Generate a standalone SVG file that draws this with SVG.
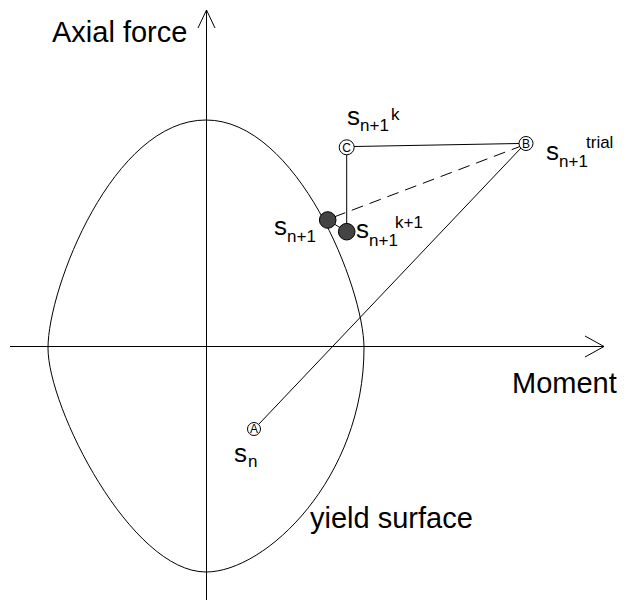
<svg xmlns="http://www.w3.org/2000/svg" width="626" height="603" viewBox="0 0 626 603">
<style>
.ln{fill:none;stroke:#000;stroke-width:1}
.lbl{font-family:"Liberation Sans",Arial,sans-serif;fill:#000}
.big{font-size:29px}
.s{font-size:26px}
.sub{font-size:17px}
.cl{font-family:"Liberation Sans",Arial,sans-serif;font-size:12px;fill:#000;text-anchor:middle}
.open{fill:#fff;stroke:#000;stroke-width:1}
.filled{fill:#444;stroke:#000;stroke-width:1}
</style>
<rect width="626" height="603" fill="#fff"/>
<g id="axes">
<line class="ln" x1="206.5" y1="600" x2="206.5" y2="10"/>
<polyline class="ln" points="198,28 206.5,10 215,28"/>
<line class="ln" x1="10" y1="346.5" x2="604" y2="346.5"/>
<polyline class="ln" points="585,336 604,346.5 585,357"/>
<text class="lbl big" x="52" y="42">Axial force</text>
<text class="lbl big" x="512" y="393">Moment</text>
</g>
<g id="yield-surface">
<path class="ln" d="M206,120 C297,120 364,288 364,348 C364,478 266,572 206,572 C131,572 48,408 48,348 C48,288 113,120 206,120 Z"/>
<text class="lbl big" x="310" y="528">yield surface</text>
</g>
<g id="connectors">
<line class="ln" x1="258.5" y1="424.5" x2="521" y2="148"/>
<line class="ln" x1="354" y1="146.5" x2="519" y2="143.5"/>
<line class="ln" x1="346.7" y1="154.5" x2="346.7" y2="231.7"/>
<line class="ln" x1="334" y1="217" x2="520" y2="146.5" stroke-dasharray="12,7"/>
<line class="ln" x1="346.7" y1="231.7" x2="327.7" y2="220"/>
</g>
<g id="node-A">
<circle class="open" cx="254" cy="429" r="6.5"/>
<text class="cl" x="254" y="433.3">A</text>
<text class="lbl s" x="234" y="462">s</text><text class="lbl sub" x="248" y="467">n</text>
</g>
<g id="node-B">
<circle class="open" cx="526" cy="143.5" r="7"/>
<text class="cl" x="526" y="147.8">B</text>
<text class="lbl s" x="546" y="160">s</text><text class="lbl sub" x="559" y="167">n+1</text><text class="lbl sub" x="586" y="148">trial</text>
</g>
<g id="node-C">
<circle class="open" cx="346.7" cy="147.3" r="7.5"/>
<text class="cl" x="346.7" y="151.6">C</text>
<text class="lbl s" x="347" y="125">s</text><text class="lbl sub" x="360" y="131">n+1</text><text class="lbl sub" x="391" y="120">k</text>
</g>
<g id="node-sn1">
<circle class="filled" cx="327.7" cy="220" r="8.3"/>
<text class="lbl s" x="274" y="235">s</text><text class="lbl sub" x="287" y="242">n+1</text>
</g>
<g id="node-sn1k1">
<circle class="filled" cx="346.7" cy="231.7" r="8.3"/>
<text class="lbl s" x="356" y="238">s</text><text class="lbl sub" x="369" y="246">n+1</text><text class="lbl sub" x="395" y="228">k+1</text>
</g>
</svg>
